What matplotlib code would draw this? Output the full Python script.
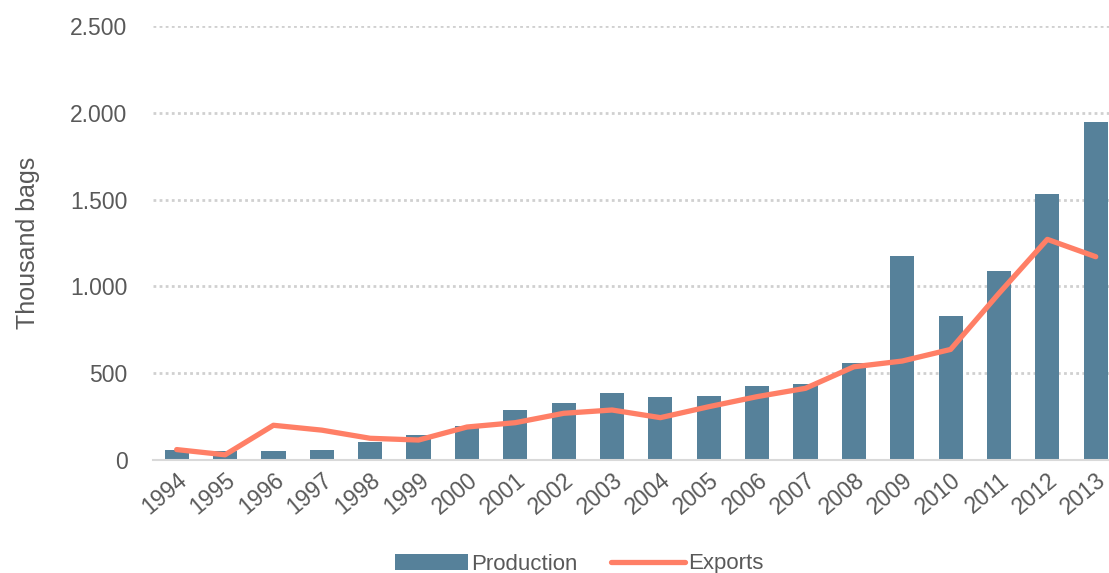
import matplotlib
matplotlib.use("Agg")
from matplotlib import pyplot as plt
from matplotlib.ticker import FuncFormatter
import numpy as np

years = [str(y) for y in range(1994, 2014)]
production = [55, 50, 50, 60, 105, 145, 195, 288, 326, 388, 361, 367, 428, 436,
              557, 1175, 829, 1090, 1532, 1947]
exports = [60, 30, 200, 172, 125, 115, 190, 215, 269, 288, 244, 307, 365, 413,
           537, 570, 637, 960, 1271, 1171]

bar_color = '#56819A'
line_color = '#FF7F66'
text_color = '#595959'

plt.rcParams['font.family'] = ['Liberation Sans', 'DejaVu Sans']

fig = plt.figure(figsize=(11.09, 5.73), dpi=100)
W, H = 1109, 573
ax = fig.add_axes([152.5 / W, 1 - 460 / H, (1109 - 152.5) / W, (460 - 26) / H])

x = np.arange(len(years))
bars = ax.bar(x, production, width=0.5, color=bar_color, label='Production', zorder=2)
line, = ax.plot(x, exports, color=line_color, linewidth=3.8, solid_capstyle='round',
                solid_joinstyle='round', label='Exports', zorder=3)

ax.set_xlim(-0.5, (1109 - 176.7) / 48.37)
ax.set_ylim(0, 2500)
ax.set_yticks([0, 500, 1000, 1500, 2000, 2500])
ax.yaxis.set_major_formatter(FuncFormatter(lambda v, p: f'{int(v):,}'.replace(',', '.')))
ax.set_xticks(x)
ax.set_xticklabels(years, rotation=40, ha='right', rotation_mode='anchor')

ax.grid(axis='y', color='#D0D0D0', linestyle=(0, (1, 1.2)), linewidth=2, zorder=0)
ax.set_axisbelow(True)
for s in ['top', 'right', 'left']:
    ax.spines[s].set_visible(False)
ax.spines['bottom'].set_color('#D9D9D9')
ax.spines['bottom'].set_linewidth(1.5)
ax.tick_params(axis='both', length=0, labelsize=16.5, colors=text_color)
ax.tick_params(axis='y', pad=18)
ax.tick_params(axis='x', pad=6)
ax.set_ylabel('Thousand bags', fontsize=18, color=text_color, labelpad=22)

fig.legend([bars, line], ['Production', 'Exports'], loc='center',
           bbox_to_anchor=(579 / W, 1 - 564 / H), ncol=2, frameon=False,
           fontsize=16, labelcolor=text_color, handlelength=3.3, handleheight=0.75,
           columnspacing=1.5, handletextpad=0.15)

fig.savefig('out.png', dpi=100)
